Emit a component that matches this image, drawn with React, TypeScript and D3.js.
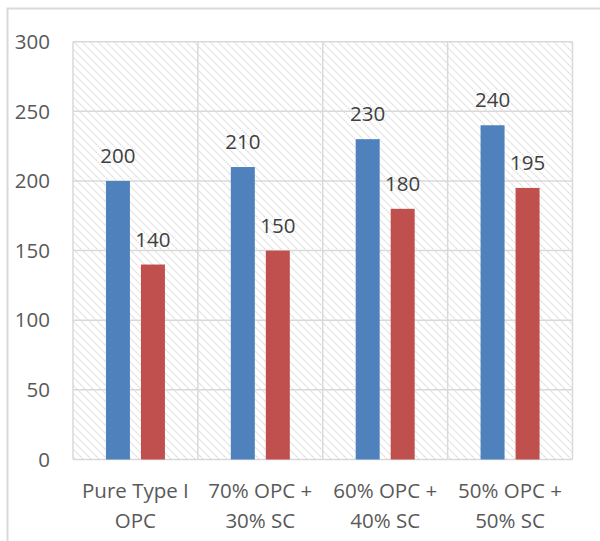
import React from "react";
import * as d3 from "d3";

const categories: string[][] = [
  ["Pure Type I", "OPC"],
  ["70% OPC +", "30% SC"],
  ["60% OPC +", "40% SC"],
  ["50% OPC +", "50% SC"],
];
const seriesA = [200, 210, 230, 240];
const seriesB = [140, 150, 180, 195];
const yTicks = [0, 50, 100, 150, 200, 250, 300];

const W = 600;
const H = 541;
const plot = { left: 73, right: 572.5, top: 41.7, bottom: 459.5 };
const FONT = "'Open Sans', 'Noto Sans', sans-serif";
const FS = 20.5;

export default function App() {
  const x = d3
    .scaleBand<number>()
    .domain(d3.range(categories.length))
    .range([plot.left, plot.right]);
  const y = d3.scaleLinear().domain([0, 300]).range([plot.bottom, plot.top]);
  const barW = 24;
  const gap = 11;
  const series = [
    { values: seriesA, color: "#4f81bd", offset: -(gap / 2 + barW) },
    { values: seriesB, color: "#c0504d", offset: gap / 2 },
  ];

  return (
    <svg
      width={W}
      height={H}
      style={{ position: "absolute", left: 0, top: 0, display: "block", background: "#fff" }}
    >
      <defs>
        <pattern id="hatch" width={8} height={8} patternUnits="userSpaceOnUse">
          <path d="M-2,-2 L10,10 M-2,6 L2,10 M6,-2 L10,2" stroke="#dcdcdc" strokeWidth={1.4} strokeDasharray="1.6 1" />
        </pattern>
      </defs>
      {/* outer frame */}
      <path d={`M7.5,${H} V8.5 H${W}`} fill="none" stroke="#d9d9d9" strokeWidth={2} />

      {/* plot background */}
      <rect
        x={plot.left}
        y={plot.top}
        width={plot.right - plot.left}
        height={plot.bottom - plot.top}
        fill="url(#hatch)"
      />

      {/* horizontal gridlines */}
      {yTicks.map((t) => (
        <line key={t} x1={plot.left} x2={plot.right} y1={y(t)} y2={y(t)} stroke="#d9d9d9" strokeWidth={1.5} />
      ))}
      {/* vertical gridlines */}
      {d3.range(categories.length + 1).map((i) => {
        const xv = i < categories.length ? x(i)! : plot.right;
        return <line key={i} x1={xv} x2={xv} y1={plot.top} y2={plot.bottom} stroke="#d9d9d9" strokeWidth={1.5} />;
      })}

      {/* bars and value labels */}
      {series.map((s, si) =>
        s.values.map((v, i) => {
          const cx = x(i)! + x.bandwidth() / 2;
          const bx = cx + s.offset;
          return (
            <g key={`${si}-${i}`}>
              <rect x={bx} y={y(v)} width={barW} height={y(0) - y(v)} fill={s.color} />
              <text
                x={bx + barW / 2}
                y={y(v) - 18}
                textAnchor="middle"
                fontFamily={FONT}
                fontSize={FS}
                fill="#404040"
              >
                {v}
              </text>
            </g>
          );
        })
      )}

      {/* y tick labels */}
      {yTicks.map((t) => (
        <text
          key={t}
          x={50}
          y={y(t)}
          dy="0.35em"
          textAnchor="end"
          fontFamily={FONT}
          fontSize={FS}
          fill="#595959"
        >
          {t}
        </text>
      ))}

      {/* category labels */}
      {categories.map((lines, i) => (
        <text
          key={i}
          x={x(i)! + x.bandwidth() / 2}
          textAnchor="middle"
          fontFamily={FONT}
          fontSize={FS}
          fill="#595959"
        >
          {lines.map((l, j) => (
            <tspan key={j} x={x(i)! + x.bandwidth() / 2} y={498 + j * 30}>
              {l}
            </tspan>
          ))}
        </text>
      ))}
    </svg>
  );
}
